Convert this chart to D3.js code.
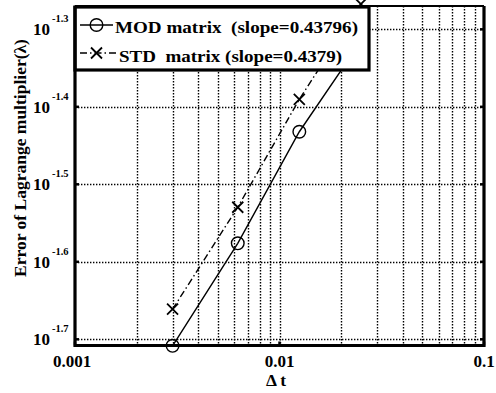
<!DOCTYPE html>
<html>
<head>
<meta charset="utf-8">
<script src="https://cdn.jsdelivr.net/npm/d3@7"></script>
<style>
  html, body { margin: 0; padding: 0; background: #fff; }
  svg { display: block; }
  text { font-family: "Liberation Serif", "Times New Roman", serif; font-weight: bold; fill: #000; }
</style>
</head>
<body>
<svg id="chart" width="496" height="393"></svg>
<script>
// Time step sizes and the error of the Lagrange multiplier for each scheme
const timeSteps = [0.003, 0.00625, 0.0125, 0.025];
const modError = [0.01957, 0.02654, 0.03697, 0.04835];
const stdError = [0.02182, 0.02954, 0.04071, 0.05402];

const xTickValues = [0.001, 0.01, 0.1];
const xTickLabels = ["0.001", "0.01", "0.1"];
const yTickExponents = ["-1.7", "-1.6", "-1.5", "-1.4", "-1.3"];

const legendLabels = ["MOD matrix  (slope=0.43796)", "STD  matrix (slope=0.4379)"];

const svg = d3.select("#chart");
const plot = { left: 75, right: 484, top: 6, bottom: 345.5 };

const x = d3.scaleLog().domain([0.001, 0.1]).range([plot.left, plot.right]);
const y = d3.scaleLog()
  .domain([Math.pow(10, -1.708), Math.pow(10, -1.2699)])
  .range([plot.bottom, plot.top]);

// Grid: vertical lines at every decade and sub-decade step, horizontal at labelled powers
const xGrid = [];
for (let d = -3; d < -1; d++) {
  for (let m = 1; m <= 9; m++) xGrid.push(m * Math.pow(10, d));
}
xGrid.push(0.1);
const yGrid = yTickExponents.map(e => Math.pow(10, +e));

const grid = svg.append("g").attr("stroke", "#000").attr("stroke-width", 1.4)
  .attr("stroke-dasharray", "1.4,1.6");
grid.selectAll("line.v").data(xGrid.filter(v => v > 0.001 && v < 0.1)).join("line")
  .attr("class", "v")
  .attr("x1", d => Math.round(x(d)) + 0.5).attr("x2", d => Math.round(x(d)) + 0.5)
  .attr("y1", plot.top).attr("y2", plot.bottom);
grid.selectAll("line.h").data(yGrid).join("line")
  .attr("class", "h")
  .attr("x1", plot.left).attr("x2", plot.right)
  .attr("y1", d => Math.round(y(d)) + 0.5).attr("y2", d => Math.round(y(d)) + 0.5);

// Inward tick marks on the box
const ticks = svg.append("g").attr("stroke", "#000").attr("stroke-width", 2.5);
yGrid.forEach(v => {
  ticks.append("line").attr("x1", plot.left).attr("x2", plot.left + 4).attr("y1", y(v)).attr("y2", y(v));
  ticks.append("line").attr("x1", plot.right - 4).attr("x2", plot.right).attr("y1", y(v)).attr("y2", y(v));
});
xTickValues.forEach(v => {
  ticks.append("line").attr("x1", x(v)).attr("x2", x(v)).attr("y1", plot.bottom).attr("y2", plot.bottom - 4);
});

// Data series
const pts = (vals) => timeSteps.map((t, i) => [x(t), y(vals[i])]);
const line = d3.line();

svg.append("path").attr("d", line(pts(stdError)))
  .attr("fill", "none").attr("stroke", "#000").attr("stroke-width", 1.4)
  .attr("stroke-dasharray", "7,3,1.5,3");
svg.append("path").attr("d", line(pts(modError)))
  .attr("fill", "none").attr("stroke", "#000").attr("stroke-width", 1.4);

const drawCircle = (g, cx, cy) => g.append("circle").attr("cx", cx).attr("cy", cy).attr("r", 6.3)
  .attr("fill", "none").attr("stroke", "#000").attr("stroke-width", 1.4);
const drawCross = (g, cx, cy) => {
  const s = 5.5;
  g.append("path").attr("d", `M${cx - s},${cy - s}L${cx + s},${cy + s}M${cx - s},${cy + s}L${cx + s},${cy - s}`)
    .attr("stroke", "#000").attr("stroke-width", 1.8).attr("fill", "none");
};
const markers = svg.append("g");
pts(modError).forEach(p => drawCircle(markers, p[0], p[1]));
pts(stdError).forEach(p => drawCross(markers, p[0], p[1]));

// Legend box (drawn over the data)
const leg = svg.append("g");
leg.append("rect").attr("x", plot.left).attr("y", 7).attr("width", 294).attr("height", 63)
  .attr("fill", "#fff").attr("stroke", "#000").attr("stroke-width", 3.2);
leg.append("line").attr("x1", 80).attr("x2", 113).attr("y1", 25).attr("y2", 25)
  .attr("stroke", "#000").attr("stroke-width", 1.4);
drawCircle(leg, 96.5, 25);
leg.append("line").attr("x1", 80).attr("x2", 116).attr("y1", 53).attr("y2", 53)
  .attr("stroke", "#000").attr("stroke-width", 1.4).attr("stroke-dasharray", "7,3,1.5,3");
drawCross(leg, 96.5, 53);
leg.append("text").attr("x", 115).attr("y", 33).attr("font-size", 17).attr("xml:space", "preserve")
  .attr("textLength", 243).attr("lengthAdjust", "spacingAndGlyphs").text(legendLabels[0]);
leg.append("text").attr("x", 119).attr("y", 62).attr("font-size", 17).attr("xml:space", "preserve")
  .attr("textLength", 223).attr("lengthAdjust", "spacingAndGlyphs").text(legendLabels[1]);

// Axes box: thick left, bottom and right sides
const box = svg.append("g").attr("stroke", "#000").attr("fill", "none");
box.append("line").attr("x1", plot.left).attr("x2", plot.right).attr("y1", plot.top).attr("y2", plot.top).attr("stroke-width", 2);
box.append("path")
  .attr("d", `M${plot.left},${plot.top}V${plot.bottom}H${plot.right}V${plot.top}`)
  .attr("stroke-width", 3.2).attr("stroke-linejoin", "miter");

// Tick labels
svg.selectAll("text.xt").data(xTickValues).join("text")
  .attr("class", "xt").attr("x", (d, i) => i === 0 ? x(d) - 3 : x(d)).attr("y", 367)
  .attr("text-anchor", "middle").attr("font-size", 17)
  .text((d, i) => xTickLabels[i]);

const yt = svg.selectAll("g.yt").data(yTickExponents).join("g").attr("class", "yt");
yt.append("text").attr("x", 50).attr("y", d => y(Math.pow(10, +d)) + 6).attr("text-anchor", "end")
  .attr("font-size", 17).text("10");
yt.append("text").attr("x", 52).attr("y", d => y(Math.pow(10, +d)) - 7).attr("font-size", 10.5)
  .text(d => d);

// Axis titles
svg.append("text").attr("x", 276).attr("y", 386).attr("text-anchor", "middle").attr("font-size", 17.5)
  .text("\u0394 t");
svg.append("text").attr("transform", "translate(26,158) rotate(-90)").attr("text-anchor", "middle")
  .attr("font-size", 17.5).text("Error of Lagrange multiplier(\u03bb)");
</script>
</body>
</html>
